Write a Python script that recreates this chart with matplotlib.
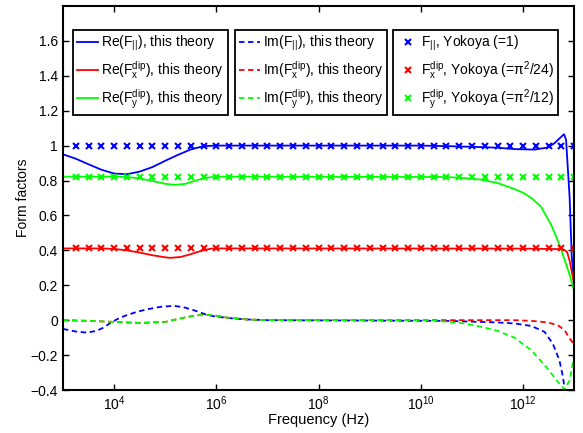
import numpy as np
import matplotlib
matplotlib.use("Agg")
import matplotlib.pyplot as plt
from matplotlib.ticker import FixedLocator, FixedFormatter, LogFormatterSciNotation, NullLocator

plt.rcParams['font.family'] = ['Liberation Sans', 'DejaVu Sans']
plt.rcParams['mathtext.fontset'] = 'custom'
plt.rcParams['mathtext.rm'] = 'Liberation Sans'
plt.rcParams['mathtext.it'] = 'Liberation Sans'
plt.rcParams['mathtext.bf'] = 'Liberation Sans:bold'
plt.rcParams['font.size'] = 10

# --- data (log10 of frequency in Hz) ---
re_par_lg = [3.0, 3.25, 3.5, 3.75, 4.0, 4.25, 4.5, 4.75, 5.0, 5.25, 5.5, 5.75, 6.0,
             10.0, 10.5, 11.0, 11.5, 11.83, 12.22, 12.48, 12.61, 12.75, 12.8, 12.84,
             12.87, 12.91, 12.95, 13.0]
re_par = [0.95, 0.925, 0.893, 0.862, 0.84, 0.836, 0.851, 0.877, 0.913, 0.947, 0.978, 0.997, 1.0,
          1.0, 0.997, 0.993, 0.988, 0.98, 0.977, 0.989, 1.013, 1.052, 1.065, 1.033,
          0.89, 0.70, 0.37, 0.2]

re_x_lg = [3.0, 3.75, 4.0, 4.25, 4.5, 4.75, 5.0, 5.1, 5.3, 5.5, 5.7, 5.9, 6.0,
           12.0, 12.75, 12.81, 12.86, 12.91, 12.95, 13.0]
re_x = [0.411, 0.411, 0.408, 0.40, 0.387, 0.372, 0.36, 0.357, 0.362, 0.378, 0.397, 0.41, 0.411,
        0.41, 0.407, 0.402, 0.39, 0.34, 0.28, 0.205]

re_y_lg = [3.0, 4.0, 4.25, 4.5, 4.75, 5.0, 5.2, 5.4, 5.6, 5.8, 6.0,
           10.5, 10.85, 11.18, 11.5, 11.83, 12.0, 12.16, 12.35, 12.55, 12.7, 12.77, 12.9, 13.0]
re_y = [0.822, 0.822, 0.82, 0.812, 0.797, 0.781, 0.775, 0.781, 0.8, 0.816, 0.822,
        0.82, 0.814, 0.805, 0.786, 0.751, 0.73, 0.70, 0.65, 0.545, 0.44, 0.381, 0.27, 0.165]

im_par_lg = [3.0, 3.25, 3.46, 3.65, 3.8, 3.92, 4.1, 4.25, 4.45, 4.64, 4.9, 5.16, 5.35,
             5.56, 5.82, 6.0, 6.33, 6.6, 7.0, 10.5, 11.5, 11.83, 12.16, 12.42, 12.58,
             12.71, 12.78, 12.81, 12.86, 13.0]
im_par = [-0.05, -0.065, -0.071, -0.062, -0.042, -0.017, 0.012, 0.029, 0.048, 0.062, 0.076, 0.082, 0.075,
          0.057, 0.03, 0.02, 0.01, 0.004, 0.0, -0.004, -0.013, -0.019, -0.033, -0.067, -0.134,
          -0.23, -0.326, -0.393, -0.44, -0.45]

im_x_lg = [3.0, 3.5, 4.0, 4.5, 5.0, 5.3, 5.6, 5.9, 6.2, 6.6, 7.0, 11.83, 12.16, 12.48,
           12.68, 12.81, 12.91, 13.0]
im_x = [0.0, -0.004, -0.01, -0.016, -0.01, 0.01, 0.028, 0.03, 0.015, 0.004, 0.0, 0.0, -0.004, -0.013,
        -0.029, -0.057, -0.105, -0.14]

im_y_lg = [3.0, 3.5, 4.0, 4.5, 5.0, 5.3, 5.6, 5.9, 6.2, 6.6, 7.0, 10.2, 10.85, 11.18, 11.5,
           11.83, 12.16, 12.48, 12.68, 12.81, 12.91, 13.0]
im_y = [0.0, -0.004, -0.01, -0.016, -0.01, 0.01, 0.028, 0.03, 0.015, 0.004, 0.0, 0.0, -0.019, -0.038,
        -0.061, -0.10, -0.172, -0.278, -0.354, -0.397, -0.345, -0.2]

yok_lg = np.arange(3.25, 13.01, 0.25)
yok_par = 1.0
yok_x = np.pi ** 2 / 24
yok_y = np.pi ** 2 / 12

xticks = [1e4, 1e6, 1e8, 1e10, 1e12]
yticks = [-0.4, -0.2, 0, 0.2, 0.4, 0.6, 0.8, 1, 1.2, 1.4, 1.6]
ytick_labels = ['\u22120.4', '\u22120.2', '0', '0.2', '0.4', '0.6', '0.8', '1', '1.2', '1.4', '1.6']

BLUE, RED, GREEN = (0, 0, 1), (1, 0, 0), (0, 1, 0)

fig = plt.figure(figsize=(5.83, 4.33), dpi=100)
ax = fig.add_axes([0.108, 0.0993, 0.877, 0.887])

lw = 1.3
dash = (3, 2)
mk = dict(marker='x', linestyle='none', markersize=5, markeredgewidth=1.5)

f = lambda lg: 10.0 ** np.asarray(lg)

h1, = ax.plot(f(re_par_lg), re_par, color=BLUE, lw=lw)
h2, = ax.plot(f(re_x_lg), re_x, color=RED, lw=lw)
h3, = ax.plot(f(re_y_lg), re_y, color=GREEN, lw=lw)
h4, = ax.plot(f(im_par_lg), im_par, color=BLUE, lw=lw, dashes=dash)
h5, = ax.plot(f(im_x_lg), im_x, color=RED, lw=lw, dashes=dash)
h6, = ax.plot(f(im_y_lg), im_y, color=GREEN, lw=lw, dashes=dash)
h7, = ax.plot(f(yok_lg), np.full(len(yok_lg), yok_par), color=BLUE, **mk)
h8, = ax.plot(f(yok_lg), np.full(len(yok_lg), yok_x), color=RED, **mk)
h9, = ax.plot(f(yok_lg), np.full(len(yok_lg), yok_y), color=GREEN, **mk)

ax.set_xscale('log')
ax.set_xlim(1e3, 1e13)
ax.set_ylim(-0.4, 1.8)
ax.xaxis.set_major_locator(FixedLocator(xticks))
ax.xaxis.set_major_formatter(LogFormatterSciNotation())
ax.xaxis.set_minor_locator(NullLocator())
ax.yaxis.set_major_locator(FixedLocator(yticks))
ax.yaxis.set_major_formatter(FixedFormatter(ytick_labels))
ax.tick_params(direction='in', top=True, right=True, length=4, width=1, labelsize=10)
for s in ax.spines.values():
    s.set_linewidth(1.5)

ax.set_xlabel('Frequency (Hz)', fontsize=10.5, labelpad=0)
ax.set_ylabel('Form factors', fontsize=10, labelpad=0.5)

leg_kw = dict(loc='upper left', fontsize=10, fancybox=False, edgecolor='black', framealpha=1,
              borderaxespad=0, handlelength=1.5, handletextpad=0.2, labelspacing=0.42,
              borderpad=0.3)
l1 = ax.legend([h1, h2, h3], [r'Re(F$_{||}$), this theory',
                              r'Re(F$^{\mathrm{dip}}_{\mathrm{x}}$), this theory',
                              r'Re(F$^{\mathrm{dip}}_{\mathrm{y}}$), this theory'],
               bbox_to_anchor=(0.0196, 0.9375), **leg_kw)
ax.add_artist(l1)
l2 = ax.legend([h4, h5, h6], [r'Im(F$_{||}$), this theory',
                              r'Im(F$^{\mathrm{dip}}_{\mathrm{x}}$), this theory',
                              r'Im(F$^{\mathrm{dip}}_{\mathrm{y}}$), this theory'],
               bbox_to_anchor=(0.3366, 0.9375), **leg_kw)
ax.add_artist(l2)
l3 = ax.legend([h7, h8, h9], [r'F$_{||}$, Yokoya (=1)',
                              r'F$^{\mathrm{dip}}_{\mathrm{x}}$, Yokoya (=π$^2$/24)',
                              r'F$^{\mathrm{dip}}_{\mathrm{y}}$, Yokoya (=π$^2$/12)'],
               bbox_to_anchor=(0.6458, 0.9375), **leg_kw)
for lg in (l1, l2, l3):
    lg.get_frame().set_linewidth(1.3)

fig.savefig('out.png', dpi=100)
